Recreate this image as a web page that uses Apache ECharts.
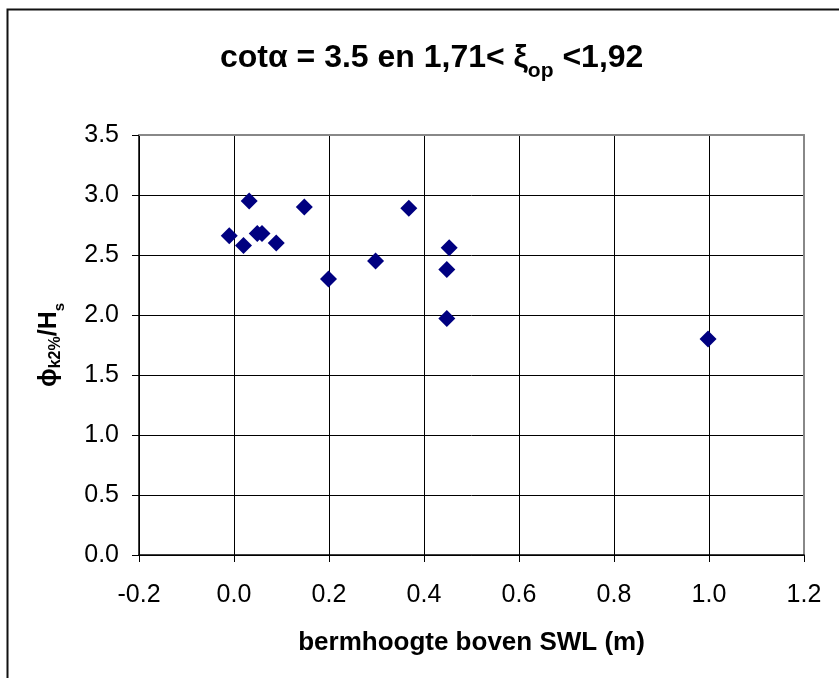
<!DOCTYPE html>
<html>
<head>
<meta charset="utf-8">
<script src="https://cdn.jsdelivr.net/npm/echarts@6/dist/echarts.min.js"></script>
<style>html,body{margin:0;padding:0;background:#fff;}#c{width:839px;height:678px;}</style>
</head>
<body>
<div id="c"></div>
<script>
// Data
const bermHeight = [-0.01, 0.02, 0.032, 0.049, 0.059, 0.089, 0.148, 0.199, 0.298, 0.368, 0.453, 0.448, 0.448, 0.998];
const phiRatio   = [2.66, 2.58, 2.95, 2.68, 2.68, 2.60, 2.90, 2.30, 2.45, 2.89, 2.56, 2.38, 1.97, 1.80];
const xTicks = [-0.2, 0.0, 0.2, 0.4, 0.6, 0.8, 1.0, 1.2];
const yTicks = [0.0, 0.5, 1.0, 1.5, 2.0, 2.5, 3.0, 3.5];

const points = bermHeight.map((x, i) => [x, phiRatio[i]]);
const F = '"Liberation Sans", Arial, sans-serif';
const fmt = ticks => v => { const t = ticks.find(k => Math.abs(k - v) < 1e-6); return (t !== undefined ? t : v).toFixed(1); };

const chart = echarts.init(document.getElementById('c'), null, {renderer: 'canvas'});
chart.setOption({
  animation: false,
  backgroundColor: '#fff',
  title: {
    text: '{a|cotα = 3.5 en 1,71< ξ}{s|op}{a| <1,92}',
    left: 215,
    top: 33,
    textStyle: {
      rich: {
        a: {fontFamily: F, fontWeight: 'bold', fontSize: 32, color: '#000', lineHeight: 36, verticalAlign: 'bottom'},
        s: {fontFamily: F, fontWeight: 'bold', fontSize: 21, color: '#000', lineHeight: 36, verticalAlign: 'bottom', padding: [0,0,-8,0]}
      }
    }
  },
  graphic: [{
    type: 'rect', shape: {x: 7.5, y: 9.5, width: 1000, height: 1000},
    style: {fill: 'none', stroke: '#111', lineWidth: 2}, silent: true
  }],
  grid: {left: 139, right: 35, top: 135, bottom: 123},
  xAxis: [{
    type: 'value', min: -0.2, max: 1.2, interval: 0.2,
    axisLine: {onZero: false, lineStyle: {color: '#000', width: 1.5}},
    axisTick: {show: true, length: 7, lineStyle: {color: '#000'}},
    splitLine: {show: true, lineStyle: {color: '#000', width: 1}},
    axisLabel: {fontFamily: F, fontSize: 25, color: '#000', margin: 28, formatter: fmt(xTicks)},
    name: 'bermhoogte boven SWL (m)', nameLocation: 'middle', nameGap: 75,
    nameTextStyle: {fontFamily: F, fontWeight: 'bold', fontSize: 26, color: '#000'}
  }, {
    type: 'value', position: 'top', min: -0.2, max: 1.2, interval: 0.2,
    axisLine: {show: true, onZero: false, lineStyle: {color: '#888', width: 2}},
    axisTick: {show: false}, axisLabel: {show: false}, splitLine: {show: false}
  }],
  yAxis: [{
    type: 'value', min: 0, max: 3.5, interval: 0.5,
    axisLine: {onZero: false, lineStyle: {color: '#000', width: 1.5}},
    axisTick: {show: true, length: 7, lineStyle: {color: '#000'}},
    splitLine: {show: true, lineStyle: {color: '#000', width: 1}},
    axisLabel: {fontFamily: F, fontSize: 25, color: '#000', margin: 20, formatter: fmt(yTicks)},
    name: '{p|ϕ}{s|k2%}{a|/H}{t|s}', nameLocation: 'middle', nameGap: 77, nameRotate: 90,
    nameTextStyle: {
      rich: {
        p: {fontFamily: F, fontWeight: 'bold', fontSize: 25, color: '#000', lineHeight: 28, verticalAlign: 'bottom'},
        a: {fontFamily: F, fontWeight: 'bold', fontSize: 25, color: '#000', lineHeight: 28, verticalAlign: 'bottom'},
        s: {fontFamily: F, fontWeight: 'bold', fontSize: 16, color: '#000', lineHeight: 28, verticalAlign: 'bottom', padding: [0,0,-2,0]},
        t: {fontFamily: F, fontWeight: 'bold', fontSize: 15, color: '#000', lineHeight: 28, verticalAlign: 'bottom', padding: [0,0,-5,0]}
      }
    }
  }, {
    type: 'value', position: 'right', min: 0, max: 3.5, interval: 0.5,
    axisLine: {show: true, onZero: false, lineStyle: {color: '#888', width: 2}},
    axisTick: {show: false}, axisLabel: {show: false}, splitLine: {show: false}
  }],
  series: [{
    type: 'scatter', data: points, symbol: 'diamond', symbolSize: 17,
    itemStyle: {color: '#000080', opacity: 1}
  }]
});
</script>
</body>
</html>
